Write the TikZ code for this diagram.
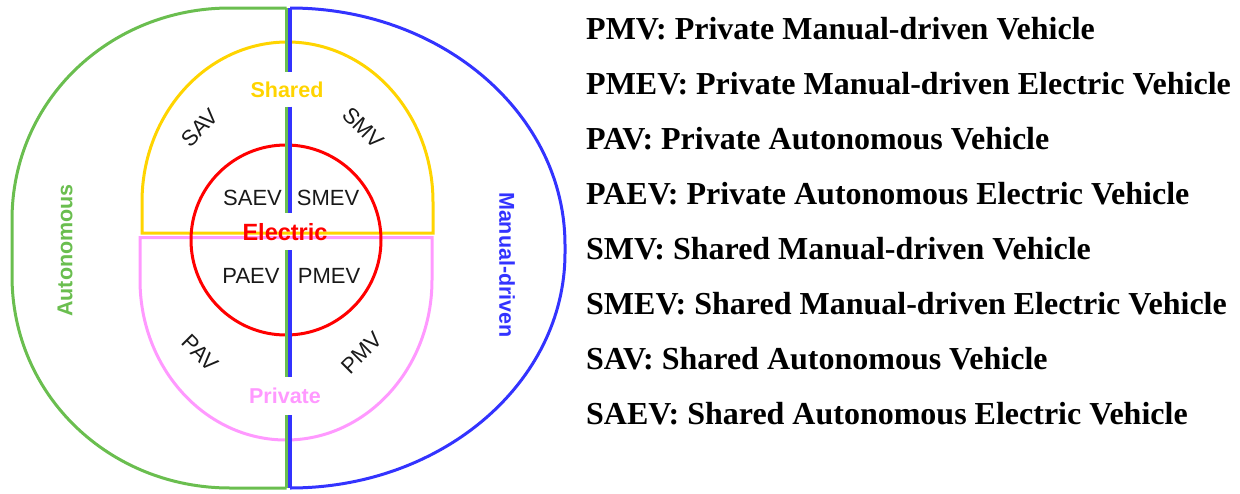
\documentclass[tikz,border=0pt]{standalone}
\usepackage{fontspec}
\setmainfont{Liberation Serif}
\setsansfont{Liberation Sans}
\definecolor{autogreen}{RGB}{106,190,79}
\definecolor{manblue}{RGB}{51,51,255}
\definecolor{sharedgold}{RGB}{255,212,0}
\definecolor{privpink}{RGB}{255,153,255}
\definecolor{elecred}{RGB}{255,0,0}
\definecolor{inktext}{RGB}{25,25,25}
\begin{document}
\begin{tikzpicture}[x=1pt,y=-1pt,
  ring/.style={line width=3pt},
  axis/.style={line width=3.5pt},
  vlabel/.style={font=\fontsize{22}{26}\selectfont\sffamily, inner sep=0pt, text=inktext},
  setlabel/.style={font=\fontsize{21.5}{26}\selectfont\sffamily\bfseries, inner sep=0pt},
  defn/.style={font=\fontsize{32}{36}\selectfont\bfseries, anchor=base west, inner sep=0pt}]
\useasboundingbox (0,0) rectangle (1240,493);

% Autonomous half (left)
\draw[ring, autogreen] (286.5,8) -- (230,8) .. controls (110,8) and (12,100) .. (12,220)
  -- (12,276) .. controls (12,396) and (110,488) .. (230,488) -- (286.5,488);
% Manual-driven half (right)
\draw[ring, manblue] (290,8) .. controls (441.9,8) and (565,114.1) .. (565,245)
  -- (565,253) .. controls (565,382.8) and (441.9,488) .. (290,488);

% Shared (top) and Private (bottom) regions
\draw[ring, sharedgold] (142,233) -- (142,202) .. controls (142,113.6) and (207.1,42) .. (287.5,42)
  .. controls (367.9,42) and (433,113.6) .. (433,202) -- (433,233) -- cycle;
\draw[ring, privpink] (140,237.5) -- (140,280) .. controls (140,368.4) and (205.4,440) .. (286,440)
  .. controls (366.6,440) and (432,368.4) .. (432,280) -- (432,237.5) -- cycle;

% Electric circle
\draw[ring, elecred] (286,240) circle[radius=95];

% Dividing axis between autonomous and manual-driven
\foreach \a/\b in {8/71.7, 106.7/212.7, 250/377, 415/488} {
  \draw[axis, autogreen] (286.5,\a) -- (286.5,\b);
  \draw[axis, manblue] (290,\a) -- (290,\b);
}

% Set names
\node[setlabel, text=sharedgold] (shared) at (287,89.5) {Shared};
\node[setlabel, text=privpink] (private) at (285,395.5) {Private};
\node[setlabel, text=elecred, font=\fontsize{23.5}{28}\selectfont\sffamily\bfseries] (electric) at (285,232.5) {Electric};
\node[setlabel, text=autogreen, rotate=90] (autonomous) at (65,250.5) {Autonomous};
\node[setlabel, text=manblue, rotate=-90] (manual) at (507,265) {Manual-driven};

% Vehicle categories
\node[vlabel, rotate=45] (sav) at (200,128) {SAV};
\node[vlabel, rotate=-45] (smv) at (363,128) {SMV};
\node[vlabel, rotate=-45] (pav) at (200,353) {PAV};
\node[vlabel, rotate=45] (pmv) at (362,353) {PMV};
\node[vlabel] (saev) at (252.5,197.5) {SAEV};
\node[vlabel] (smev) at (328,197.5) {SMEV};
\node[vlabel] (paev) at (251,276) {PAEV};
\node[vlabel] (pmev) at (329,276) {PMEV};

% Abbreviation list
\node[defn] (d1) at (586,39) {PMV: Private Manual-driven Vehicle};
\node[defn] (d2) at (586,94.1) {PMEV: Private Manual-driven Electric Vehicle};
\node[defn] (d3) at (586,149.2) {PAV: Private Autonomous Vehicle};
\node[defn] (d4) at (586,204.3) {PAEV: Private Autonomous Electric Vehicle};
\node[defn] (d5) at (586,259.4) {SMV: Shared Manual-driven Vehicle};
\node[defn] (d6) at (586,314.5) {SMEV: Shared Manual-driven Electric Vehicle};
\node[defn] (d7) at (586,369.6) {SAV: Shared Autonomous Vehicle};
\node[defn] (d8) at (586,424.7) {SAEV: Shared Autonomous Electric Vehicle};
\end{tikzpicture}
\end{document}
